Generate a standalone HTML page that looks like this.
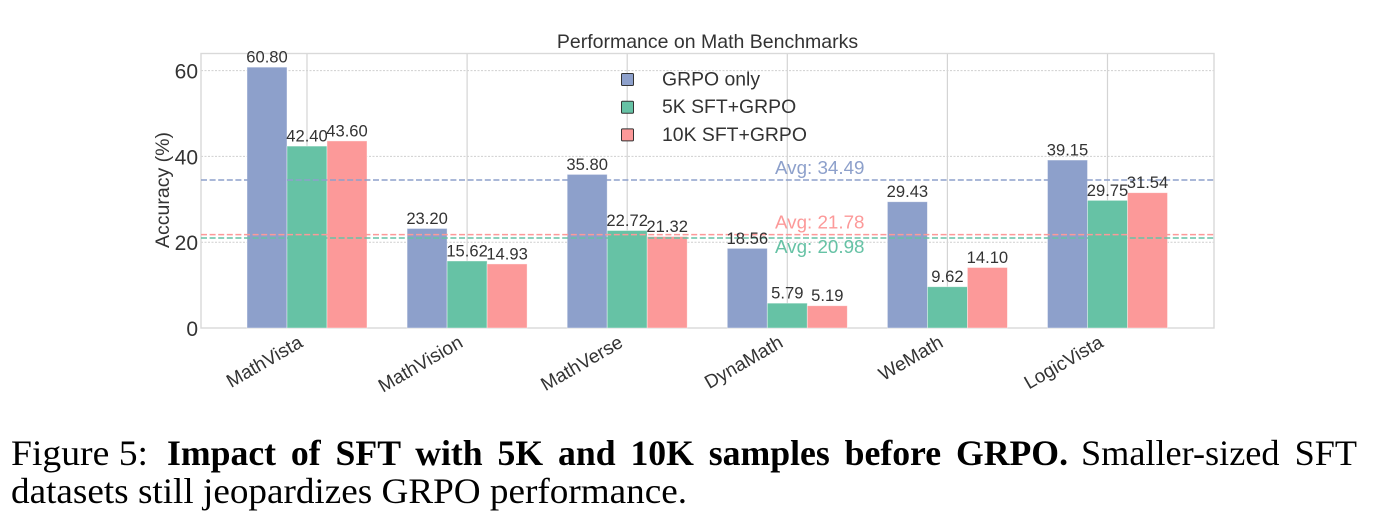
<!DOCTYPE html>
<html>
<head>
<meta charset="utf-8">
<style>
html,body{margin:0;padding:0;background:#fff;width:1388px;height:529px;overflow:hidden}
svg{display:block}
text{font-family:"Liberation Sans",sans-serif}
.cap{font-family:"Liberation Serif",serif;font-size:36px;fill:#000}
</style>
</head>
<body>
<svg id="chart" width="1388" height="529" viewBox="0 0 1388 529" xmlns="http://www.w3.org/2000/svg">
<text x="707.5" y="48" text-anchor="middle" font-size="19.5" fill="#333">Performance on Math Benchmarks</text>
<g id="plot"></g>
<text transform="translate(169,190) rotate(-90)" text-anchor="middle" font-size="19.5" fill="#333">Accuracy (%)</text>
<text class="cap" x="11" y="465" textLength="137" lengthAdjust="spacingAndGlyphs">Figure 5:</text>
<text class="cap" x="167" y="465" font-weight="bold" word-spacing="6" textLength="901" lengthAdjust="spacingAndGlyphs">Impact of SFT with 5K and 10K samples before GRPO.</text>
<text class="cap" x="1081" y="465" word-spacing="6" textLength="276" lengthAdjust="spacingAndGlyphs">Smaller-sized SFT</text>
<text class="cap" x="11" y="503" textLength="676" lengthAdjust="spacingAndGlyphs">datasets still jeopardizes GRPO performance.</text>
</svg>
<script>
const categories = ["MathVista", "MathVision", "MathVerse", "DynaMath", "WeMath", "LogicVista"];
const seriesNames = ["GRPO only", "5K SFT+GRPO", "10K SFT+GRPO"];
const grpoOnly = [60.80, 23.20, 35.80, 18.56, 29.43, 39.15];
const sft5k = [42.40, 15.62, 22.72, 5.79, 9.62, 29.75];
const sft10k = [43.60, 14.93, 21.32, 5.19, 14.10, 31.54];
const averages = [34.49, 20.98, 21.78];
const yTicks = [0, 20, 40, 60];
const seriesValues = [grpoOnly, sft5k, sft10k];
const colors = ["#8da0cb", "#66c2a5", "#fc9999"];

const NS = "http://www.w3.org/2000/svg";
const plot = document.getElementById("plot");
const L = 201, R = 1214, T = 53.5, B = 328;
const pxPerUnit = 4.29, groupStart = 307, groupStep = 160.1, barW = 40;
const y = v => B - v * pxPerUnit;
const x = i => groupStart + i * groupStep;

function make(tag, attrs, parent, text) {
  const el = document.createElementNS(NS, tag);
  for (const k in attrs) el.setAttribute(k, attrs[k]);
  if (text !== undefined) el.textContent = text;
  (parent || plot).appendChild(el);
  return el;
}

// horizontal gridlines and y ticks
yTicks.forEach(t => {
  if (t > 0) {
    const g = make("line", {x1: L, x2: R, y1: y(t), y2: y(t), stroke: "#cfcfcf", "stroke-width": 1, "stroke-dasharray": "2 1.5"});
    
    
  }
  const lab = make("text", {x: 198, y: y(t) + 8, "text-anchor": "end", "font-size": 21, fill: "#333"}, plot, String(t));
  
  
});

// vertical gridlines
categories.forEach((c, i) => {
  const g = make("line", {x1: x(i), x2: x(i), y1: T, y2: B, stroke: "#d4d4d4", "stroke-width": 1.2});
  
  
});

// frame
const frame = make("rect", {x: L, y: T, width: R - L, height: B - T, fill: "none", stroke: "#d9d9d9", "stroke-width": 1.4});



// bars
seriesValues.forEach((vals, s) => {
  vals.forEach((v, i) => {
    const bx = x(i) + (s - 1.5) * barW;
    const r = make("rect", {x: bx, y: y(v), width: barW, height: B - y(v), fill: colors[s], stroke: "#fff", "stroke-opacity": 0.5, "stroke-width": 0.8});
    
    
  });
});

// average lines drawn above the bars
const avgDy = [-6, 15, -6];
const avgDraw = [0, 1, 2];
avgDraw.forEach(s => {
  const l = make("line", {x1: L, x2: R, y1: y(averages[s]), y2: y(averages[s]), stroke: colors[s], "stroke-width": 1.5, "stroke-dasharray": "6 2.6"});
  
  
  const t = make("text", {x: 775, y: y(averages[s]) + avgDy[s], "font-size": 18.8, fill: colors[s]}, plot, "Avg: " + averages[s].toFixed(2));
  
  
});

// value labels
seriesValues.forEach((vals, s) => {
  vals.forEach((v, i) => {
    const bx = x(i) + (s - 1) * barW;
    const t = make("text", {x: bx, y: y(v) - 4.5, "text-anchor": "middle", "font-size": 16.6, fill: "#333"}, plot, v.toFixed(2));
    
    
  });
});

// x category labels, rotated with their end at the tick
categories.forEach((c, i) => {
  const t = make("text", {transform: "translate(" + (x(i) - 3) + ",346) rotate(-30)", "text-anchor": "end", "font-size": 19, fill: "#333"}, plot, c);
  
  
});

// legend
seriesNames.forEach((n, s) => {
  const ly = 79 + s * 27.7;
  const r = make("rect", {x: 621.5, y: ly - 5.5, width: 12, height: 12, rx: 1, fill: colors[s], stroke: "#333", "stroke-width": 1});
  
  
  const t = make("text", {x: 662, y: ly + 6.5, "font-size": 19.4, fill: "#333"}, plot, n);
  
  
});
</script>
</body>
</html>
